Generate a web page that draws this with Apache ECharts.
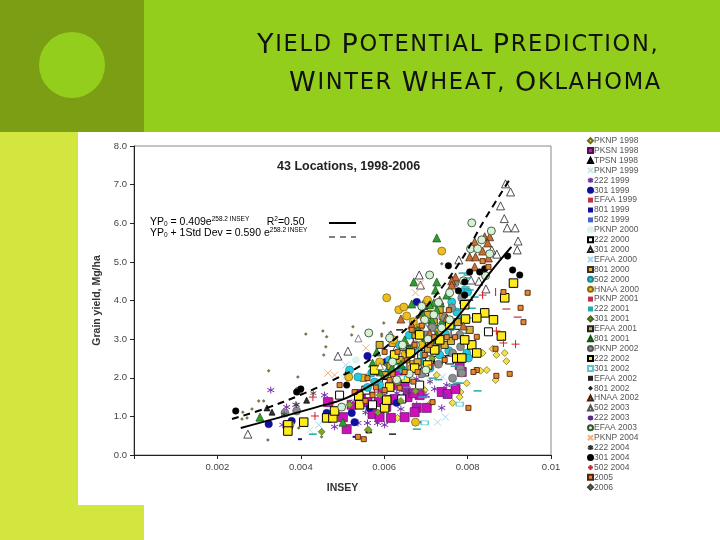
<!DOCTYPE html>
<html><head><meta charset="utf-8"><style>html,body{margin:0;padding:0;background:#fff}#c{width:720px;height:540px}</style>
<script src="https://cdn.jsdelivr.net/npm/echarts@6/dist/echarts.min.js"></script></head><body><div id="c"></div>
<script>
// All x values in thousandths of INSEY, y in Mg/ha
const pknp1998=[[8.89,2.64],[8.69,2.59],[8.93,2.43],[8.60,2.75],[8.46,2.20],[8.67,1.94],[8.31,2.18],[7.98,1.86],[7.83,1.63],[7.81,1.50],[7.64,1.35],[7.09,1.32],[8.36,2.64],[6.32,.96],[5.60,.65],[7.26,2.07],[6.97,1.68]];
const pksn1998=[[5.10,.67],[5.01,.98],[5.44,1.58],[5.87,1.37],[5.96,1.68],[5.72,1.06],[5.89,.98],[6.16,.96],[6.49,.98],[7.02,1.22],[6.78,1.22],[6.73,1.11],[6.56,1.50],[6.30,1.81],[6.49,1.76],[4.65,1.37],[7.38,1.63],[7.52,1.58],[7.71,1.71],[7.81,2.33],[7.86,2.15],[5.22,1.30],[5.60,1.37],[6.13,1.42],[6.85,1.55],[6.37,2.12],[6.25,1.45],[6.7,1.6],[6.05,1.25]];
const tpsn1998=[[3.19,1.22],[3.31,1.11],[5.63,.65],[4.14,1.42],[5.13,2.20]];
const pknp1999=[[4.22,.65],[5.03,1.99],[6.37,1.63]];
const s222y1999=[[3.28,1.68],[3.66,1.24],[3.57,.78],[4.57,1.55],[4.81,.73],[3.88,1.30],[5.37,.83],[5.60,.83],[5.84,.83],[6.01,.78],[7.38,1.22],[6.40,1.19],[6.78,1.30],[6.78,1.97],[7.45,1.55],[7.50,1.81],[7.21,1.71],[6.5,1.7],[7.0,1.55],[6.3,1.6]];
const s301y1999=[[3.23,.80],[3.78,.88],[4.62,1.09],[5.22,1.09],[5.60,2.56],[6.04,2.41],[6.59,2.93],[6.30,1.35],[5.29,.85],[5.65,1.22],[6.78,3.96]];
const efaa1999=[[8.67,4.22],[7.81,4.01],[6.9,2.2]];
const s801y1999=[[3.98,.41],[5.29,.47],[6.9,.85]];
const s502y1999=[[6.1,2.5],[5.7,1.8],[7.0,1.5]];
const pknp2000=[[7.81,3.24],[5.32,2.46],[6.61,3.50]];
const s222y2000=[[6.42,1.45],[6.61,2.64],[5.72,1.30],[8.50,3.19],[5.56,1.68],[6.97,2.15],[7.09,2.46],[7.45,2.67],[7.57,2.46],[6.85,1.81],[4.93,1.55],[6.45,2.3],[6.9,2.6],[7.3,2.45],[6.05,1.85],[7.7,3.15],[6.6,2.95]];
const s301y2000=[[8.91,7.02],[9.03,6.81],[8.79,6.45],[8.88,6.12],[8.95,5.88],[9.14,5.88],[9.21,5.54],[9.19,5.31],[8.7,5.2],[8.58,5.31],[7.79,5.05],[6.84,4.66],[6.87,4.4],[8.27,4.5],[8.08,4.53],[8.44,4.3],[2.73,.54],[4.89,2.56],[5.13,2.69],[6.30,2.80],[6.16,3.11]];
const efaa2000=[[4.43,.78],[5.08,2.33],[5.25,1.42],[7.28,.85],[7.47,.98],[6.01,1.61],[7.40,2.02]];
const s801y2000=[[6.2,2.9],[7.0,3.9],[6.7,2.35],[7.4,3.6],[5.5,2.0]];
const s502y2000=[[5.37,2.02],[5.17,2.20],[5.70,2.12],[5.89,1.81],[6.13,2.46],[6.35,2.43],[5.77,1.89],[7.88,4.22],[8.00,4.22],[7.62,3.96],[7.74,3.70],[7.62,3.32],[7.86,3.50],[7.98,2.64],[8.02,2.51],[7.47,3.13],[6.73,2.72],[7.21,2.98],[6.85,2.41],[6.37,2.85],[7.33,2.59],[6.45,2.2],[6.95,2.6],[7.1,2.25],[7.2,3.3],[6.6,3.1],[6.1,2.15],[7.55,2.7],[5.6,1.75]];
const hnaa2000=[[6.06,4.07],[6.35,3.76],[6.47,3.83],[6.54,3.60],[5.15,2.02],[6.75,.85],[3.74,.78],[7.26,3.03],[7.04,4.01],[5.89,2.41],[6.23,2.98],[6.90,2.85],[6.66,2.25],[7.38,5.28],[6.85,3.3],[6.95,3.55],[6.7,3.45],[7.1,3.65],[6.5,2.6]];
const pknp2001=[[8.93,3.78],[9.20,3.57]];
const s222y2001=[[4.29,.54],[6.78,.67],[6.97,.85],[8.24,1.66],[7.74,1.86],[7.81,1.86],[7.64,1.81],[7.16,1.99],[7.69,2.30],[7.88,4.71],[8.00,4.66],[7.98,4.58],[8.05,4.27],[8.17,4.09],[6.3,2.2],[6.9,1.5],[7.3,1.95],[6.55,1.75],[7.5,3.35],[7.75,3.75],[8.1,3.8],[7.95,4.35],[8.0,3.55],[7.9,3.15]];
const s301y2001=[[4.50,.60],[5.63,.65],[5.89,1.55],[6.61,2.07],[6.32,1.86],[5.17,1.30],[6.97,2.98],[6.08,2.33],[7.33,2.85],[6.75,1.65],[7.15,2.5],[6.4,1.4],[5.85,1.1]];
const efaa2001=[[6.95,3.24],[7.19,3.44],[7.45,2.85],[6.61,2.72],[7.76,3.44],[8.05,3.24],[6.37,2.46],[6.01,2.07],[6.75,3.11],[7.33,3.76],[7.04,3.63],[5.89,2.85],[6.8,2.4],[7.05,2.75],[7.3,3.2],[6.45,2.8],[6.15,2.3],[7.6,2.95]];
const s801y2001=[[7.26,5.62],[6.71,4.48],[7.26,4.48],[6.66,3.91],[3.02,.98],[5.01,.85],[5.82,2.67],[6.18,2.25],[5.72,2.38],[7.23,4.27],[7.19,3.94],[7.35,3.94],[7.09,3.89],[7.26,3.76],[7.40,3.50],[7.14,3.50],[6.80,3.24],[6.49,2.98],[7.50,4.14],[7.26,3.11],[6.9,3.7],[7.0,3.05],[6.6,2.75],[6.2,2.55],[5.9,2.15],[6.4,2.35],[7.1,3.35]];
const pknp2002=[[7.83,2.23],[7.86,2.12],[7.64,1.99],[7.81,3.11],[7.83,2.80],[7.64,2.64],[7.28,2.75],[3.90,1.14],[3.95,1.66],[3.62,1.09],[7.62,3.81],[7.86,4.07],[6.9,2.1],[7.3,2.35],[7.15,3.3],[7.45,3.55],[7.0,3.15],[7.7,4.45]];
const s222y2002=[[3.69,.78],[3.69,.62],[4.07,.85],[4.62,.96],[4.77,.96],[4.81,1.14],[5.41,1.30],[5.39,1.53],[6.01,1.22],[6.13,1.76],[6.51,1.99],[6.73,2.25],[7.04,2.33],[7.09,2.93],[6.63,2.64],[6.06,1.42],[9.10,4.45],[8.89,4.07],[8.62,3.50],[8.41,3.68],[8.22,3.55],[8.81,3.08],[7.95,3.52],[7.93,3.89],[8.10,2.85],[7.93,2.98],[8.22,2.64],[7.74,2.51],[7.86,2.51],[7.33,2.98],[7.57,3.37],[6.85,3.11],[7.21,2.72],[6.25,2.59],[5.77,2.20]];
const s301y2002=[[7.81,1.32],[6.97,.83],[6.4,2.0]];
const efaa2002=[[6.20,.54],[6.97,3.78],[6.37,3.24],[8.05,4.01]];
const s801y2002=[[6.80,3.57],[6.95,3.78],[7.6,4.6]];
const hnaa2002=[[8.17,5.52],[8.41,5.65],[8.53,5.65],[8.48,5.49],[8.36,5.28],[8.50,5.10],[8.05,5.13],[8.19,5.13],[8.17,4.87],[7.71,4.61],[7.62,4.51],[7.62,4.40],[6.40,3.52],[7.33,4.01],[6.66,3.37],[7.50,3.55],[7.09,3.16],[7.90,3.34]];
const s502y2003=[[5.38,3.02],[6.12,3.1],[5.9,2.3],[7.0,3.3]];
const s222y2003=[[5.55,1.1],[6.6,1.6],[7.1,1.9]];
const efaa2003=[[8.10,6.01],[8.57,5.80],[8.34,5.57],[8.07,5.34],[8.24,5.34],[8.53,5.21],[8.43,4.64],[7.09,4.66],[7.57,4.20],[7.90,4.51],[5.63,3.16],[6.13,3.03],[6.44,2.85],[4.98,1.24],[6.20,2.41],[7.19,3.63],[7.57,3.50],[6.75,2.85],[6.97,3.50],[7.38,3.29],[6.6,2.1],[7.0,2.2],[6.9,3.85],[7.3,3.95],[7.05,3.0],[6.3,1.95]];
const pknp2004=[[4.81,2.07],[4.65,2.12],[5.56,2.77],[6.87,4.45],[6.75,4.20]];
const s222y2004=[[3.9,1.3],[3.6,1.05],[4.3,1.6]];
const s301y2004=[[7.54,4.90],[8.41,4.82],[8.29,4.74],[8.96,5.15],[9.08,4.79],[9.25,4.66],[7.93,4.48],[7.78,4.25],[7.93,4.14],[2.44,1.14],[4.00,1.71],[5.10,1.81],[3.90,1.63],[8.05,4.74]];
const s502y2004=[[4.29,1.50],[4.34,1.01],[4.77,1.37],[5.77,1.63],[7.14,2.33],[8.36,4.14],[8.69,3.21],[9.15,2.87],[8.86,2.90]];
const y2005=[[5.51,.41],[8.02,1.22],[8.22,3.06],[4.93,1.81],[5.37,.47],[7.16,1.37],[8.22,2.20],[6.37,1.74],[6.01,2.67],[8.67,2.75],[9.01,2.10],[8.69,2.05],[8.14,2.15],[8.86,4.22],[9.27,3.81],[9.44,4.20],[9.34,3.44],[8.36,5.02],[8.50,4.87],[6.73,2.85],[6.32,2.67],[6.49,2.15],[6.97,2.59],[7.45,2.46],[6.66,3.24],[5.60,1.99],[5.29,1.63],[6.13,1.94],[5.72,1.55],[7.09,2.85],[6.01,1.68],[6.9,3.35],[7.2,3.05],[6.55,2.45],[6.8,2.15],[7.5,3.05],[7.7,3.05],[7.55,3.75],[6.2,2.1],[5.8,1.75],[5.55,1.4],[6.7,1.9]];
const y2006=[[3.21,.39],[4.53,3.21],[5.25,3.32],[4.12,3.13],[4.62,3.06],[3.23,2.18],[3.93,2.02],[4.60,2.80],[4.55,2.59],[5.22,3.11],[5.94,3.13],[2.99,1.40],[3.11,1.40],[2.83,1.19],[2.61,1.11],[2.59,.93],[2.71,.96],[3.95,.70],[4.50,.47],[7.38,4.95],[5.99,3.42],[5.94,3.08]];
const solidLine=[[2.56,.70],[4.38,1.24],[5.10,1.48],[5.96,1.99],[6.78,2.64],[7.64,3.42],[8.53,4.71],[9.05,5.39]];
const dashedLine=[[2.35,.93],[3.19,1.22],[3.98,1.55],[4.77,1.94],[5.58,2.41],[6.20,2.95],[6.78,3.55],[7.74,4.87],[8.45,6.17],[9.05,7.20]];
const AST='path://M5 0L5 10M0 2.5L10 7.5M0 7.5L10 2.5';
const CROSS='path://M0 0L10 10M10 0L0 10';
const PLUS='path://M5 0L5 10M0 5L10 5';
const K='#000';
// name, data, symbol, size, fill, border, border width
const table=[
['PKNP 1998',pknp1998,'diamond',7,'#F4E04D','#6b6b1e',.7],
['PKSN 1998',pksn1998,'rect',9,'#CC11BB','#551155',.7],
['TPSN 1998',tpsn1998,'triangle',6,'#333','#000',.7],
['PKNP 1999',pknp1999,CROSS,7,'transparent','#BDEBF0',1],
['222 1999',s222y1999,AST,7,'transparent','#7B2FA8',1],
['301 1999',s301y1999,'circle',7.5,'#10109C','#10109C',.5],
['EFAA 1999',efaa1999,'rect',[1.2,8],'#C0304A','#C0304A',0],
['801 1999',s801y1999,'rect',[4,2],'#10109C','#10109C',0],
['502 1999',s502y1999,'rect',[8,1.2],'#4466CC','#4466CC',0],
['PKNP 2000',pknp2000,'circle',7,'#DDF3F3','#DDF3F3',.5],
['222 2000',s222y2000,'rect',8,'#fff',K,1],
['301 2000',s301y2000,'triangle',8,'#fff','#222',.8],
['EFAA 2000',efaa2000,CROSS,7,'transparent','#A8D8F0',1],
['801 2000',s801y2000,'rect',7,'#F5B21A','#333',.8],
['502 2000',s502y2000,'circle',8,'#22CCDD','#2a8088',.7],
['HNAA 2000',hnaa2000,'circle',8,'#EDBE1F','#8a6a10',.8],
['PKNP 2001',pknp2001,'rect',[8,1.2],'#C0304A','#C0304A',0],
['222 2001',s222y2001,'rect',[8,1.5],'#22AAB0','#22AAB0',0],
['301 2001',s301y2001,'diamond',7,'#7FA52A','#44601a',.6],
['EFAA 2001',efaa2001,'rect',7,'#D8B030','#222',.9],
['801 2001',s801y2001,'triangle',8,'#2E9E2E','#155015',.7],
['PKNP 2002',pknp2002,'circle',8,'#8A8F90','#555',.6],
['222 2002',s222y2002,'rect',8.5,'#FFEA1E',K,1],
['301 2002',s301y2002,'rect',[7,4],'#fff','#55C8D0',1],
['EFAA 2002',efaa2002,'rect',[7,1.5],'#222','#222',0],
['801 2002',s801y2002,'diamond',5,'#222','#222',0],
['HNAA 2002',hnaa2002,'triangle',8,'#C86E32','#442211',.7],
['502 2003',s502y2003,'triangle',7,'#fff','#555',.7],
['222 2003',s222y2003,AST,6,'transparent','#5a2a80',.9],
['EFAA 2003',efaa2003,'circle',8,'#D8F0D8','#335533',.9],
['PKNP 2004',pknp2004,CROSS,7,'transparent','#F0B080',1],
['222 2004',s222y2004,AST,6,'transparent','#333',.8],
['301 2004',s301y2004,'circle',6.5,'#000','#000',.5],
['502 2004',s502y2004,PLUS,8,'transparent','#D0202A',1],
['2005',y2005,'rect',5,'#E08A2C','#552211',.9],
['2006',y2006,'diamond',3,'#7a7a30','#444',.4]
];
const series=table.map(([name,data,symbol,size,fill,border,bw])=>({name,type:'scatter',
 data:data.map(p=>[p[0]/1000,p[1]]),symbol,symbolSize:size,
 itemStyle:{color:fill,borderColor:border,borderWidth:bw,opacity:1},z:2}));
series.push({name:'solid',type:'line',data:solidLine.map(p=>[p[0]/1000,p[1]]),smooth:.4,showSymbol:false,symbol:'none',lineStyle:{color:'#000',width:2},z:5});
series.push({name:'dashed',type:'line',data:dashedLine.map(p=>[p[0]/1000,p[1]]),smooth:.4,showSymbol:false,symbol:'none',lineStyle:{color:'#000',width:2,type:[7,5]},z:5});
const sans='"Liberation Sans",Arial,sans-serif';
const titleFont={fontFamily:'DejaVu Sans',fontWeight:'normal',color:'#111',padding:[0,1.7,0,0]};
const titleRich={b:{...titleFont,fontSize:27},s:{...titleFont,fontSize:22.5}};
// Small caps with tracking: the first letter of each word is large, the rest small
const smallCaps=line=>line.split(' ').map(w=>w?[...w].map((c,i)=>`{${i?'s':'b'}|${c}}`).join(''):'').join('{s| }');
const eqRich={t:{fontFamily:sans,fontSize:10.5,color:'#444'},sub:{fontFamily:sans,fontSize:6.5,color:'#444',verticalAlign:'bottom',padding:[5,0,0,0]},sup:{fontFamily:sans,fontSize:6.5,color:'#444',verticalAlign:'top',padding:[0,0,5,0]}};
const bg=(x,y,w,h,fill)=>({type:'rect',z:-10,silent:true,shape:{x,y,width:w,height:h},style:{fill}});
const chart=echarts.init(document.getElementById('c'));
chart.setOption({animation:false,backgroundColor:'#fff',
 title:[
 {text:smallCaps('YIELD POTENTIAL PREDICTION,'),left:257,top:32,padding:0,textStyle:{fontWeight:'normal',rich:titleRich}},
 {text:smallCaps('WINTER WHEAT, OKLAHOMA'),left:289,top:70,padding:0,textStyle:{fontWeight:'normal',rich:titleRich}},
 {text:'43 Locations, 1998-2006',left:277,top:160,padding:0,textStyle:{fontFamily:sans,fontSize:12.5,fontWeight:'bold',color:'#222'}}
 ],
 graphic:[
 bg(0,0,720,132,'#94CE1C'),bg(0,0,144,132,'#7C9E14'),bg(0,132,144,408,'#D3E63F'),bg(78,132,587,373,'#fff'),
 {type:'circle',z:-9,silent:true,shape:{cx:72,cy:65,r:33},style:{fill:'#94CE1C'}},
 {type:'text',z:10,silent:true,left:150,top:216,style:{text:'{t|YP}{sub|0}{t| = 0.409e}{sup|258.2 INSEY}{t|      R}{sup|2}{t|=0.50}',rich:eqRich}},
 {type:'text',z:10,silent:true,left:150,top:227,style:{text:'{t|YP}{sub|0}{t| + 1Std Dev = 0.590 e}{sup|258.2 INSEY}',rich:eqRich}},
 {type:'line',z:10,silent:true,shape:{x1:329,y1:223,x2:356,y2:223},style:{stroke:'#000',lineWidth:2}},
 {type:'line',z:10,silent:true,shape:{x1:329,y1:237,x2:356,y2:237},style:{stroke:'#000',lineWidth:1,lineDash:[6,5]}}
 ],
 grid:{left:134,top:146,width:417,height:309,show:true,borderColor:'#888',borderWidth:1,backgroundColor:'transparent'},
 xAxis:{type:'value',min:0,max:.01,interval:.002,name:'INSEY',nameLocation:'middle',nameGap:28,nameTextStyle:{fontFamily:sans,fontSize:10.5,fontWeight:'bold',color:'#333'},
  splitLine:{show:false},axisLine:{lineStyle:{color:'#222'}},axisTick:{inside:false,length:4,lineStyle:{color:'#222'}},
  axisLabel:{margin:7,fontFamily:sans,fontSize:9.5,color:'#444',formatter:v=>v===0?'':(v>=.0099?'0.01':v.toFixed(3))}},
 yAxis:{type:'value',min:0,max:8,interval:1,name:'Grain yield, Mg/ha',nameLocation:'middle',nameGap:21,nameTextStyle:{fontFamily:sans,fontSize:10.5,fontWeight:'bold',color:'#333'},
  splitLine:{show:false},axisLine:{show:true,lineStyle:{color:'#222'}},axisTick:{show:true,length:4,lineStyle:{color:'#222'}},
  axisLabel:{margin:7,fontFamily:sans,fontSize:9.5,color:'#444',formatter:v=>v.toFixed(1)}},
 legend:{orient:'vertical',left:587,top:136,padding:0,itemWidth:5,itemHeight:5,itemGap:0.5,
  data:table.map(r=>r[0]),textStyle:{fontFamily:sans,fontSize:8.5,color:'#555',padding:[0,0,0,-4],lineHeight:9.4},selectedMode:false},
 series
});
</script></body></html>
